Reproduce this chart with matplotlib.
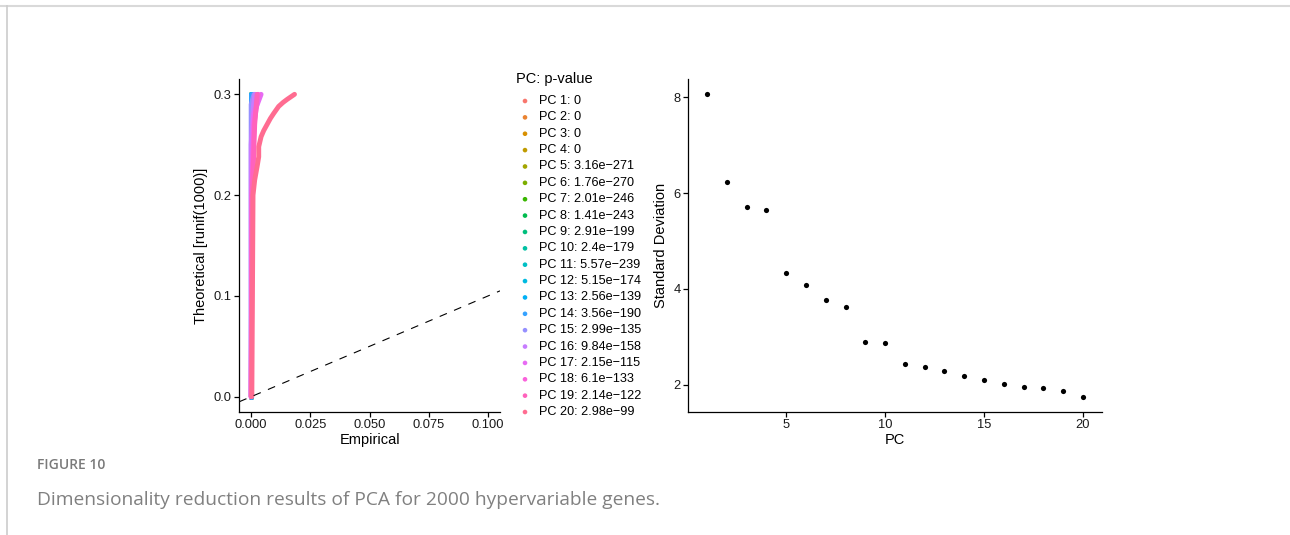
import numpy as np
import matplotlib.pyplot as plt
from matplotlib.lines import Line2D

plt.rcParams['font.family'] = ['Liberation Sans', 'DejaVu Sans']

W, H = 1290, 535

# ggplot default hue palette for 20 PCs
pc_colors = ["#F8766D", "#EA8331", "#D89000", "#C09B00", "#A3A500", "#7CAE00",
             "#39B600", "#00BB4E", "#00BF7D", "#00C1A3", "#00BFC4", "#00BAE0",
             "#00B0F6", "#35A2FF", "#9590FF", "#C77CFF", "#E76BF3", "#FA62DB",
             "#FF62BC", "#FF6C91"]

pc_pvalues = ["0", "0", "0", "0", "3.16e\u2212271", "1.76e\u2212270", "2.01e\u2212246",
              "1.41e\u2212243", "2.91e\u2212199", "2.4e\u2212179", "5.57e\u2212239",
              "5.15e\u2212174", "2.56e\u2212139", "3.56e\u2212190", "2.99e\u2212135",
              "9.84e\u2212158", "2.15e\u2212115", "6.1e\u2212133", "2.14e\u2212122",
              "2.98e\u221299"]

# JackStraw empirical vs theoretical curves (theoretical capped at 0.3)
emp_flat = [0.0, 0.0]
theo_flat = [0.0, 0.3]
emp_pc15 = [0.0, 0.0, 0.0012]
theo_pc15 = [0.0, 0.29, 0.30]
emp_pc16 = [0.0, 0.0, 0.0010, 0.0016]
theo_pc16 = [0.0, 0.25, 0.29, 0.30]
emp_pc17 = [0.0, 0.0003, 0.0010, 0.0042]
theo_pc17 = [0.0, 0.20, 0.28, 0.30]
emp_pc18 = [0.0, 0.0003, 0.0012, 0.0030]
theo_pc18 = [0.0, 0.20, 0.27, 0.30]
emp_pc19 = [0.0, 0.0005, 0.0015, 0.0025]
theo_pc19 = [0.0, 0.20, 0.27, 0.30]
emp_pc20 = [0.0003, 0.0008, 0.0015, 0.0025, 0.0032, 0.0032, 0.0042, 0.0053,
            0.0067, 0.0081, 0.0095, 0.0116, 0.0135, 0.0152, 0.0183]
theo_pc20 = [0.0, 0.200, 0.215, 0.228, 0.238, 0.248, 0.258, 0.264,
             0.270, 0.276, 0.281, 0.288, 0.292, 0.295, 0.300]

# Elbow plot
pcs = np.arange(1, 21)
stdev = [8.06, 6.22, 5.70, 5.64, 4.33, 4.09, 3.76, 3.62, 2.885, 2.864,
         2.44, 2.376, 2.279, 2.181, 2.098, 2.014, 1.951, 1.930, 1.868, 1.749]

fig = plt.figure(figsize=(W / 100, H / 100), dpi=100)


def px_axes(x0, y0, x1, y1):
    return fig.add_axes([x0 / W, 1 - y1 / H, (x1 - x0) / W, (y1 - y0) / H])


def classic(ax):
    for s in ['top', 'right']:
        ax.spines[s].set_visible(False)
    for s in ['left', 'bottom']:
        ax.spines[s].set_linewidth(0.9)
        ax.spines[s].set_color('black')
    ax.tick_params(length=3.5, width=0.9, labelsize=9.3, colors='black',
                   labelcolor='#1a1a1a', pad=2)


# --- JackStraw plot ---
ax1 = px_axes(239.3, 79.2, 500, 411.8)
classic(ax1)
curves = [(emp_flat, theo_flat)] * 14 + [
    (emp_pc15, theo_pc15), (emp_pc16, theo_pc16), (emp_pc17, theo_pc17),
    (emp_pc18, theo_pc18), (emp_pc19, theo_pc19), (emp_pc20, theo_pc20)]
for (ex, th), c in zip(curves, pc_colors):
    ax1.plot(ex, th, color=c, lw=3.5, solid_capstyle='round',
             solid_joinstyle='round')
ax1.axline((0, 0), slope=1, color='black', lw=0.8, linestyle=(0, (7, 7)))
ax1.set_xlim(-0.005, 0.105)
ax1.set_ylim(-0.015, 0.315)
ax1.set_xticks([0, 0.025, 0.05, 0.075, 0.1])
ax1.set_xticklabels(['0.000', '0.025', '0.050', '0.075', '0.100'])
ax1.set_yticks([0, 0.1, 0.2, 0.3])
ax1.set_yticklabels(['0.0', '0.1', '0.2', '0.3'])
ax1.set_xlabel('Empirical', fontsize=10.5, labelpad=1)
ax1.set_ylabel('Theoretical [runif(1000)]', fontsize=10.5, labelpad=4)

# legend, laid out in pixel rows
lax = fig.add_axes([0, 0, 1, 1])
lax.set_xlim(0, W)
lax.set_ylim(H, 0)
lax.axis('off')
lax.text(516, 79, 'PC: p-value', fontsize=10.5, va='center', ha='left')
row_y = 101 + 16.37 * np.arange(len(pcs))
lax.scatter(np.full(len(pcs), 525), row_y, s=11, c=pc_colors, linewidths=0)
for y, i, p in zip(row_y, pcs, pc_pvalues):
    lax.text(539, y, f"PC {i}: {p}", fontsize=9.1, va='center', ha='left')

# --- Elbow plot ---
ax2 = px_axes(688.3, 79.2, 1101.7, 411.8)
classic(ax2)
ax2.scatter(pcs, stdev, s=14, color='black', linewidths=0)
ax2.set_xlim(0.05, 20.95)
ax2.set_ylim(1.434, 8.376)
ax2.set_xticks([5, 10, 15, 20])
ax2.set_yticks([2, 4, 6, 8])
ax2.set_xlabel('PC', fontsize=10.5, labelpad=1)
ax2.set_ylabel('Standard Deviation', fontsize=10.5, labelpad=4)

# page frame and caption
lax.plot([0, W], [5.5, 5.5], color='#d9d9d9', lw=1.5)
lax.plot([6.5, 6.5], [5.5, H], color='#cccccc', lw=1.2)
lax.text(37, 465, 'FIGURE 10', fontsize=10, color='#7a7a7a',
         family=['Open Sans', 'DejaVu Sans'], fontweight='semibold', va='center')
lax.text(37, 500,
         'Dimensionality reduction results of PCA for 2000 hypervariable genes.',
         fontsize=13.8, color='#808080', family=['Open Sans', 'DejaVu Sans'],
         va='center')

fig.savefig('out.png', dpi=100)
